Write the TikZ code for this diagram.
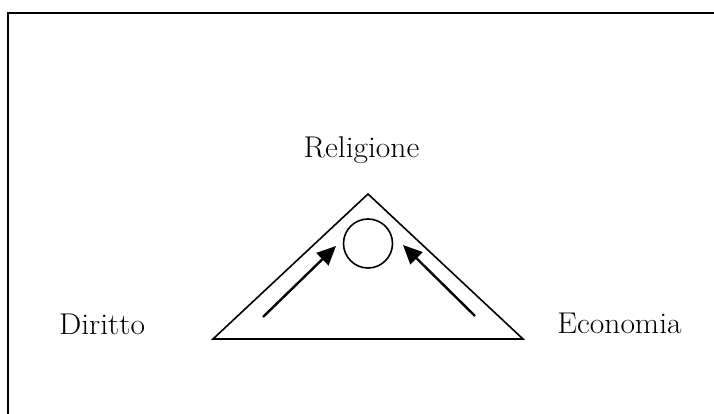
\documentclass[tikz,border=0pt]{standalone}
\usepackage{fontspec}
\setmainfont{Latin Modern Roman}
\usetikzlibrary{arrows.meta}
\begin{document}
\begin{tikzpicture}[x=1pt,y=1pt,
  lbl/.style={anchor=base,inner sep=0pt,font=\fontsize{30}{34}\selectfont},
  tri/.style={line width=1.6pt,line join=miter},
  arr/.style={line width=2.4pt,-{Triangle[length=19pt,width=17pt]}}]
\useasboundingbox (0,0) rectangle (714,414);
\begin{scope}
\clip (0,0) rectangle (714,414);
\draw[line width=2.8pt] (8,-10) -- (8,401) -- (720,401);
\end{scope}
\coordinate (A) at (368,220);
\coordinate (B) at (213,75);
\coordinate (C) at (523,75);
\draw[tri] (A) -- (B) -- (C) -- cycle;
\node[circle,draw,line width=1.6pt,minimum size=49pt,inner sep=0pt] (O) at (368,170.5) {};
\coordinate (l1) at (263,97);
\coordinate (l2) at (336,168);
\coordinate (r1) at (475,98);
\coordinate (r2) at (403,169);
\draw[arr] (l1) -- (l2);
\draw[arr] (r1) -- (r2);
\node[lbl] (rel) at (361.5,256) {\addfontfeatures{FakeStretch=1.05}Religione};
\node[lbl] (dir) at (102,79) {\addfontfeatures{FakeStretch=1.05}Diritto};
\node[lbl] (eco) at (619.5,80) {\addfontfeatures{FakeStretch=1.05}Economia};
\end{tikzpicture}
\end{document}
